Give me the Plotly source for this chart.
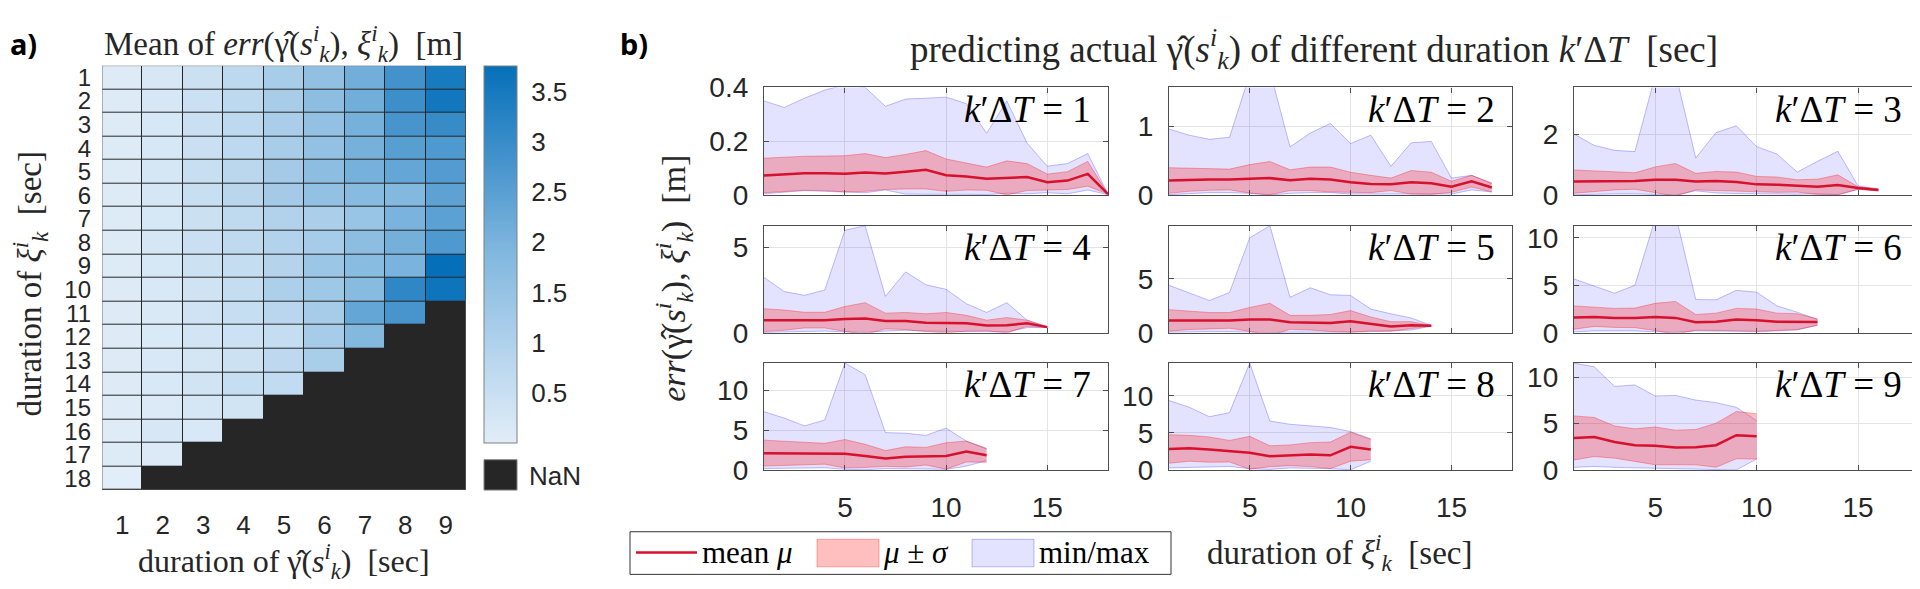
import plotly.graph_objects as go

W, H = 1920, 589

# durations on the axes [sec]
gamma_dur = list(range(1, 10))
xi_dur = list(range(1, 19))

# error statistics per predicted duration k'dT = 1..9, as function of duration of xi
mean1 = [0.074, 0.078, 0.082, 0.082, 0.080, 0.085, 0.081, 0.088, 0.095, 0.075, 0.070, 0.062, 0.065, 0.068, 0.049, 0.055, 0.080, 0.005]
sd1 = [0.064, 0.064, 0.063, 0.064, 0.067, 0.070, 0.059, 0.064, 0.071, 0.060, 0.050, 0.043, 0.063, 0.050, 0.030, 0.033, 0.046, 0.0]
min1 = [0.006, 0.012, 0.018, 0.015, 0.012, 0.01, 0.02, 0.005, 0.004, 0.005, 0.004, 0.003, 0.008, 0.006, 0.01, 0.006, 0.02, 0.003]
max1 = [0.35, 0.326, 0.36, 0.39, 0.41, 0.40, 0.33, 0.357, 0.36, 0.364, 0.34, 0.23, 0.35, 0.194, 0.108, 0.118, 0.155, 0.005]

mean2 = [0.215, 0.225, 0.23, 0.23, 0.24, 0.25, 0.22, 0.24, 0.23, 0.19, 0.165, 0.16, 0.19, 0.175, 0.125, 0.205, 0.115]
sd2 = [0.185, 0.165, 0.155, 0.15, 0.205, 0.24, 0.15, 0.17, 0.18, 0.145, 0.125, 0.09, 0.17, 0.16, 0.08, 0.085, 0.065]
min2 = [0.01, 0.03, 0.04, 0.04, 0.03, 0.005, 0.03, 0.04, 0.04, 0.02, 0.02, 0.02, 0.03, 0.02, 0.02, 0.08, 0.05]
max2 = [0.96, 0.87, 0.81, 0.84, 1.75, 1.80, 0.70, 0.90, 1.04, 0.75, 0.87, 0.42, 0.76, 0.78, 0.25, 0.29, 0.17]

mean3 = [0.45, 0.46, 0.47, 0.47, 0.51, 0.51, 0.45, 0.47, 0.44, 0.36, 0.35, 0.31, 0.28, 0.34, 0.24, 0.18]
sd3 = [0.38, 0.34, 0.29, 0.27, 0.42, 0.53, 0.27, 0.31, 0.32, 0.26, 0.25, 0.20, 0.25, 0.33, 0.04, 0.03]
min3 = [0.02, 0.04, 0.05, 0.05, 0.03, 0.01, 0.15, 0.08, 0.06, 0.05, 0.05, 0.04, 0.05, 0.03, 0.2, 0.15]
max3 = [2.0, 1.63, 1.47, 1.43, 3.9, 4.0, 1.22, 2.05, 2.27, 1.59, 1.35, 0.76, 1.11, 1.44, 0.31, 0.21]

mean4 = [0.74, 0.74, 0.74, 0.74, 0.81, 0.83, 0.69, 0.69, 0.59, 0.59, 0.56, 0.43, 0.44, 0.56, 0.33]
sd4 = [0.67, 0.59, 0.46, 0.46, 0.73, 0.93, 0.46, 0.50, 0.52, 0.60, 0.46, 0.31, 0.45, 0.18, 0.02]
min4 = [0.02, 0.05, 0.08, 0.1, 0.05, 0.02, 0.1, 0.15, 0.1, 0.08, 0.05, 0.03, 0.05, 0.3, 0.31]
max4 = [3.24, 2.41, 2.19, 2.50, 6.0, 6.26, 2.13, 3.56, 2.81, 2.54, 1.70, 1.19, 1.76, 0.74, 0.35]

mean5 = [1.15, 1.15, 1.12, 1.15, 1.24, 1.24, 0.97, 0.94, 0.91, 1.06, 0.82, 0.59, 0.71, 0.65]
sd5 = [1.0, 0.85, 0.76, 0.73, 1.11, 1.5, 0.65, 0.68, 0.79, 1.0, 0.65, 0.44, 0.32, 0.03]
min5 = [0.05, 0.1, 0.1, 0.1, 0.05, 0.02, 0.05, 0.05, 0.02, 0.05, 0.1, 0.15, 0.25, 0.62]
max5 = [4.41, 3.68, 3.0, 3.74, 8.82, 9.94, 3.29, 4.18, 3.53, 3.47, 2.2, 1.76, 1.38, 0.68]

mean6 = [1.6, 1.67, 1.57, 1.57, 1.67, 1.57, 1.1, 1.17, 1.4, 1.33, 1.17, 1.17, 1.13]
sd6 = [1.23, 1.0, 1.0, 1.03, 1.43, 1.73, 0.83, 0.9, 1.17, 1.17, 0.9, 0.83, 0.34]
min6 = [0.1, 0.2, 0.2, 0.2, 0.1, 0.05, 0.2, 0.2, 0.15, 0.1, 0.2, 0.3, 0.8]
max6 = [5.67, 4.93, 4.17, 5.0, 12.0, 12.5, 3.5, 3.47, 4.47, 4.27, 2.83, 2.17, 1.4]

mean7 = [2.14, 2.14, 2.06, 2.06, 2.06, 1.79, 1.47, 1.67, 1.75, 1.79, 2.34, 1.87]
sd7 = [1.63, 1.51, 1.39, 1.31, 1.79, 1.46, 0.99, 1.27, 1.11, 1.66, 1.31, 0.87]
min7 = [0.2, 0.25, 0.3, 0.3, 0.1, 0.05, 0.2, 0.2, 0.15, 0.1, 0.5, 1.2]
max7 = [7.34, 6.55, 5.56, 6.3, 13.45, 12.0, 4.72, 4.64, 4.37, 5.28, 3.65, 2.66]

mean8 = [2.85, 2.94, 2.77, 2.55, 2.34, 1.87, 2.0, 2.09, 2.0, 3.15, 2.77]
sd8 = [1.92, 1.74, 1.7, 1.45, 2.21, 1.41, 1.4, 1.61, 1.79, 1.95, 1.36]
min8 = [0.3, 0.4, 0.5, 0.5, 0.2, 0.1, 0.3, 0.3, 0.2, 0.05, 1.2]
max8 = [9.36, 8.47, 7.19, 7.74, 14.4, 6.6, 6.17, 6.0, 5.74, 5.19, 4.21]

mean9 = [3.46, 3.56, 3.02, 2.68, 2.61, 2.44, 2.47, 2.68, 3.76, 3.63]
sd9 = [2.37, 2.1, 1.73, 1.76, 2.03, 1.86, 1.9, 2.37, 2.54, 2.44]
min9 = [0.3, 0.4, 0.3, 0.25, 0.2, 0.2, 0.1, 0.02, 0.02, 1.2]
max9 = [11.5, 11.1, 9.0, 9.15, 7.97, 8.03, 7.53, 7.25, 6.75, 5.32]

means = [mean1, mean2, mean3, mean4, mean5, mean6, mean7, mean8, mean9]
sds = [sd1, sd2, sd3, sd4, sd5, sd6, sd7, sd8, sd9]
mins = [min1, min2, min3, min4, min5, min6, min7, min8, min9]
maxs = [max1, max2, max3, max4, max5, max6, max7, max8, max9]

# axis limits of the small panels
y_top = [0.4, 1.56, 3.52, 6.26, 9.94, 11.27, 13.45, 14.4, 11.5]
y_step = [0.2, 1, 2, 5, 5, 5, 5, 5, 5]


def fx(p):
    return p / W


def fy(p):
    return 1 - p / H


SERIF = "Liberation Serif"
SANS = "Liberation Sans"
DARK = "#262626"
AX = "#4d4d4d"
GRID = "#e4e4e4"
NB = "\u00a0"

fig = go.Figure()

# ---- a) heatmap of the mean error
z = []
for j in range(len(xi_dur)):
    row = []
    for k in range(len(gamma_dur)):
        row.append(means[k][j] if j < len(means[k]) else None)
    z.append(row)

fig.add_trace(go.Heatmap(
    x=gamma_dur, y=xi_dur, z=z, xgap=1, ygap=1,
    colorscale=[[0, "#e1edf8"], [0.25, "#b3d3ec"], [0.5, "#82b8df"],
                [0.75, "#4593cc"], [1, "#0570b9"]],
    colorbar=dict(x=fx(476), xanchor="left", y=fy(45), yanchor="top",
                  len=(443 - 45) / H, lenmode="fraction",
                  thickness=33, thicknessmode="pixels", xpad=0, ypad=0,
                  outlinewidth=1, outlinecolor="#808080",
                  tick0=0.5, dtick=0.5, ticks="outside", ticklen=9,
                  tickcolor="white", tickfont=dict(family=SANS, size=26, color=DARK)),
    hoverongaps=False, showscale=True, xaxis="x", yaxis="y"))

fig.update_layout(
    xaxis=dict(domain=[fx(94), fx(458)], range=[0.5, 9.5], tickvals=gamma_dur,
               ticks="", showgrid=False, zeroline=False, ticklabelstandoff=17,
               tickfont=dict(family=SANS, size=26, color=DARK), anchor="y"),
    yaxis=dict(domain=[fy(493), fy(45)], range=[18.5, 0.5], tickvals=xi_dur,
               ticks="", showgrid=False, zeroline=False, ticklabelstandoff=10,
               tickfont=dict(family=SANS, size=24, color=DARK), anchor="x"),
)

shapes = [
    dict(type="rect", xref="x", yref="y", x0=0.5, x1=9.5, y0=0.5, y1=18.5,
         fillcolor=DARK, line=dict(width=0), layer="below"),
    dict(type="rect", xref="x", yref="y", x0=0.5, x1=9.5, y0=0.5, y1=18.5,
         line=dict(color="#707070", width=1)),
    dict(type="rect", xref="paper", yref="paper", x0=fx(476), x1=fx(509),
         y0=fy(493), y1=fy(461), fillcolor=DARK, line=dict(color="#808080", width=1)),
]

gam = "γ\u0302(<i>s</i><sup><i>i</i></sup><sub><i>k</i></sub>)"
xik = "<i>ξ</i><sup><i>i</i></sup><sub><i>k</i></sub>"

annotations = [
    dict(text="NaN", x=fx(519), y=fy(478), xanchor="left", yanchor="middle",
         font=dict(family=SANS, size=26, color=DARK)),
    dict(text="<b>a)</b>", x=0, y=fy(22), xanchor="left", yanchor="middle",
         font=dict(family="Noto Sans", size=29, color="black")),
    dict(text="<b>b)</b>", x=fx(610), y=fy(22), xanchor="left", yanchor="middle",
         font=dict(family="Noto Sans", size=29, color="black")),
    dict(text="Mean of <i>err</i>(" + gam + ", " + xik + ")" + NB + NB + "[m]",
         x=fx(275), y=fy(22), xanchor="center", yanchor="middle",
         font=dict(family=SERIF, size=33, color=DARK)),
    dict(text="duration of " + xik + NB + NB + "[sec]",
         x=fx(22), y=fy(276), xanchor="center", yanchor="middle", textangle=-90,
         font=dict(family=SERIF, size=33, color=DARK)),
    dict(text="duration of " + gam + NB + NB + "[sec]",
         x=fx(276), y=fy(568), xanchor="center", yanchor="middle",
         font=dict(family=SERIF, size=32, color=DARK)),
    dict(text="predicting actual " + gam + " of different duration <i>k</i>′Δ<i>T</i>" + NB + NB + "[sec]",
         x=fx(1306), y=fy(27), xanchor="center", yanchor="middle",
         font=dict(family=SERIF, size=37, color=DARK)),
    dict(text="<i>err</i>(" + gam + ", " + xik + ")" + NB + NB + "[m]",
         x=fx(666), y=fy(270), xanchor="center", yanchor="middle", textangle=-90,
         font=dict(family=SERIF, size=34, color=DARK)),
    dict(text="duration of " + xik + NB + NB + "[sec]",
         x=fx(1331), y=fy(559), xanchor="center", yanchor="middle",
         font=dict(family=SERIF, size=33, color=DARK)),
]

# ---- b) 3x3 panels
cols = [(756, 1100), (1161, 1504), (1566, 1911)]
rows = [(68, 182), (214, 327), (359, 472)]

BLUE_FILL = "rgba(0,0,255,0.11)"
BLUE_LINE = "rgba(0,0,255,0.25)"
RED_FILL = "rgba(255,0,0,0.25)"
RED_LINE = "rgba(255,0,0,0.3)"
MEAN_COL = "#d7102e"

for i in range(9):
    n = i + 2
    xa, ya = "x%d" % n, "y%d" % n
    c0, c1 = cols[i % 3]
    r0, r1 = rows[i // 3]
    xs = xi_dur[:len(means[i])]
    lower = [m - s for m, s in zip(means[i], sds[i])]
    upper = [m + s for m, s in zip(means[i], sds[i])]

    fig.add_trace(go.Scatter(x=xs, y=mins[i], mode="lines", line=dict(color=BLUE_LINE, width=1),
                             showlegend=False, xaxis=xa, yaxis=ya, hoverinfo="skip"))
    fig.add_trace(go.Scatter(x=xs, y=maxs[i], mode="lines", line=dict(color=BLUE_LINE, width=1),
                             fill="tonexty", fillcolor=BLUE_FILL,
                             showlegend=False, xaxis=xa, yaxis=ya, hoverinfo="skip"))
    fig.add_trace(go.Scatter(x=xs, y=lower, mode="lines", line=dict(color=RED_LINE, width=1),
                             showlegend=False, xaxis=xa, yaxis=ya, hoverinfo="skip"))
    fig.add_trace(go.Scatter(x=xs, y=upper, mode="lines", line=dict(color=RED_LINE, width=1),
                             fill="tonexty", fillcolor=RED_FILL,
                             showlegend=False, xaxis=xa, yaxis=ya, hoverinfo="skip"))
    fig.add_trace(go.Scatter(x=xs, y=means[i], mode="lines", line=dict(color=MEAN_COL, width=2.5),
                             showlegend=False, xaxis=xa, yaxis=ya))

    fig.layout["xaxis%d" % n] = dict(
        domain=[fx(c0), fx(c1)], range=[1, 18], tickvals=[5, 10, 15],
        showticklabels=(i >= 6), ticks="inside", ticklen=5, tickcolor=AX,
        showgrid=True, gridcolor=GRID, zeroline=False,
        showline=True, linecolor=AX, linewidth=1.3, mirror="ticks",
        ticklabelstandoff=12, tickfont=dict(family=SANS, size=28, color=DARK), anchor=ya)
    fig.layout["yaxis%d" % n] = dict(
        domain=[fy(r1), fy(r0)], range=[0, y_top[i]], tick0=0, dtick=y_step[i],
        ticks="inside", ticklen=5, tickcolor=AX,
        showgrid=True, gridcolor=GRID, zeroline=False,
        showline=True, linecolor=AX, linewidth=1.3, mirror="ticks",
        ticklabelstandoff=9, tickfont=dict(family=SANS, size=28, color=DARK), anchor=xa)

    annotations.append(dict(
        text="<i>k</i>′Δ<i>T</i>" + NB + "=" + NB + "%d" % (i + 1), x=fx(c1 - 15), y=fy(r0 + 23),
        xanchor="right", yanchor="middle", font=dict(family=SERIF, size=37, color="black")))

# ---- legend drawn by hand under the panels
shapes += [
    dict(type="rect", xref="paper", yref="paper", x0=fx(622), x1=fx(1163), y0=fy(582), y1=fy(537),
         fillcolor="white", line=dict(color="#333333", width=1)),
    dict(type="line", xref="paper", yref="paper", x0=fx(628), x1=fx(689), y0=fy(559), y1=fy(559),
         line=dict(color=MEAN_COL, width=2.5)),
    dict(type="rect", xref="paper", yref="paper", x0=fx(809), x1=fx(871), y0=fy(574), y1=fy(545),
         fillcolor=RED_FILL, line=dict(color=RED_LINE, width=1)),
    dict(type="rect", xref="paper", yref="paper", x0=fx(964), x1=fx(1026), y0=fy(574), y1=fy(545),
         fillcolor=BLUE_FILL, line=dict(color=BLUE_LINE, width=1)),
]
for label, xl in [("mean <i>μ</i>", 692), ("<i>μ</i>" + NB + "±" + NB + "<i>σ</i>", 873), ("min/max", 1029)]:
    annotations.append(dict(text=label, x=fx(xl), y=fy(559), xanchor="left", yanchor="middle",
                            font=dict(family=SERIF, size=31, color="black")))

for a in annotations:
    a.update(xref="paper", yref="paper", showarrow=False)

fig.update_layout(
    width=W, height=H, margin=dict(l=0, r=0, t=0, b=0),
    paper_bgcolor="white", plot_bgcolor="white",
    shapes=shapes, annotations=annotations, showlegend=False,
)

fig.write_html("out.html")
